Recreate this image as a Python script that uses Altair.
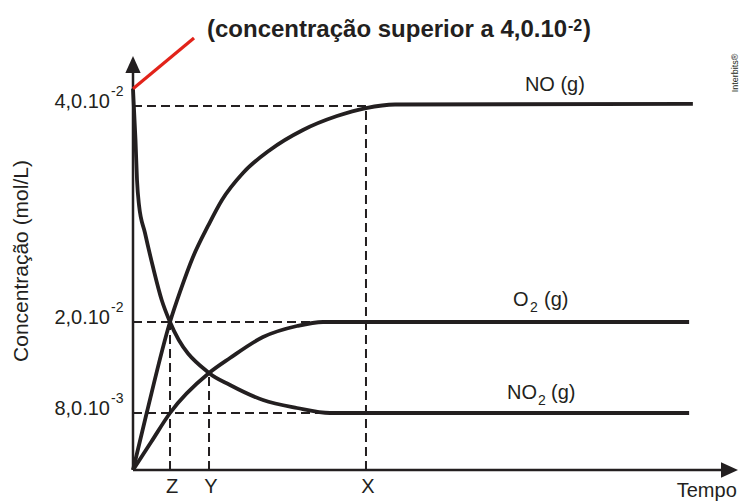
import altair as alt
import pandas as pd

# Concentration (mol/L) against time (arbitrary units) for the three species
NO_T = [0, 0.365, 0.987, 1.253, 1.6, 2.0, 2.373, 2.933, 3.653, 4.533, 5.44, 6.213, 6.987, 14.93]
NO_C = [0, 0.008, 0.02, 0.02278, 0.02602, 0.02889, 0.0313, 0.0338, 0.03593, 0.03778, 0.03907, 0.03981, 0.04014, 0.0402]
NO2_T = [0, 0.067, 0.107, 0.16, 0.32, 0.533, 0.765, 0.987, 2.027, 2.587, 3.467, 4.373, 5.253, 14.83]
NO2_C = [0.0416, 0.03685, 0.03315, 0.03083, 0.02824, 0.02509, 0.02204, 0.02, 0.01327, 0.01169, 0.00971, 0.00866, 0.008, 0.008]
O2_T = [0, 0.493, 0.987, 2.027, 2.587, 3.467, 4.373, 5.067, 14.83]
O2_C = [0, 0.004, 0.008, 0.01327, 0.01525, 0.01802, 0.01947, 0.02, 0.02]

# Red pointer marking the starting NO2 concentration
RED_T = [0, 1.627]
RED_C = [0.0416, 0.0463]

# Marked instants on the time axis
MARK_NAMES = ["Z", "Y", "X"]
MARK_T = [0.987, 2.027, 6.213]
MARK_C = [0.02, 0.01327, 0.04]

# Concentration levels shown on the vertical axis
LEVEL_C = [0.04, 0.02, 0.008]
LEVEL_MAIN = ["4,0.10", "2,0.10", "8,0.10"]
LEVEL_EXP = ["-2", "-2", "-3"]
LEVEL_END_T = [6.213, 5.1, 5.0]

FONT = "Liberation Sans"
INK = "#231f20"
RED = "#e2231a"

# The drawing is not to scale: a piecewise scale puts each level where it is drawn
x_sc = alt.Scale(domain=[0, 16], range=[133, 733], nice=False, zero=False)
y_sc = alt.Scale(domain=[0, 0.008, 0.02, 0.04], range=[470, 413, 322, 106], nice=False, zero=False)


def X(field):
    return alt.X(field, type="quantitative", scale=x_sc, axis=None)


def Y(field):
    return alt.Y(field, type="quantitative", scale=y_sc, axis=None)


def xd(v):
    return alt.XDatum(v, type="quantitative", scale=x_sc, axis=None)


def yd(v):
    return alt.YDatum(v, type="quantitative", scale=y_sc, axis=None)


def note(text, x, y, **mark):
    base = dict(font=FONT, color=INK, fontSize=20, align="left", baseline="middle")
    base.update(mark)
    return alt.Chart(pd.DataFrame({"s": [text]})).mark_text(**base).encode(
        x=x, y=y, text="s:N"
    )


curves = pd.concat(
    [
        pd.DataFrame({"serie": "NO", "t": NO_T, "c": NO_C}),
        pd.DataFrame({"serie": "NO2", "t": NO2_T, "c": NO2_C}),
        pd.DataFrame({"serie": "O2", "t": O2_T, "c": O2_C}),
    ],
    ignore_index=True,
)

# Dashed guides: horizontal from the axis, vertical from the time axis
guides = pd.DataFrame(
    {
        "t1": [0, 0, 0] + MARK_T,
        "c1": LEVEL_C + [0, 0, 0],
        "t2": LEVEL_END_T + MARK_T,
        "c2": LEVEL_C + MARK_C,
    }
)

guide_layer = alt.Chart(guides).mark_rule(
    color=INK, strokeWidth=2, strokeDash=[9, 5]
).encode(x=X("t1"), y=Y("c1"), x2=alt.X2("t2"), y2=alt.Y2("c2"))

axes = pd.DataFrame({"t1": [0, 0], "c1": [0, 0], "t2": [0, 15.79], "c2": [0.04333, 0]})
axis_layer = alt.Chart(axes).mark_rule(color=INK, strokeWidth=2.5).encode(
    x=X("t1"), y=Y("c1"), x2=alt.X2("t2"), y2=alt.Y2("c2")
)

arrow_up = alt.Chart(pd.DataFrame({"t": [0], "c": [0.04384]})).mark_point(
    shape="M0,-1L0.9,1L-0.9,1Z", filled=True, size=289, color=INK, opacity=1, strokeWidth=0
).encode(x=X("t"), y=Y("c"))
arrow_right = alt.Chart(pd.DataFrame({"t": [15.907], "c": [0]})).mark_point(
    shape="M1,0L-1,0.9L-1,-0.9Z", filled=True, size=289, color=INK, opacity=1, strokeWidth=0
).encode(x=X("t"), y=Y("c"))

curve_layer = alt.Chart(curves).mark_line(
    color=INK, strokeWidth=3.8, interpolate="monotone", strokeCap="butt"
).encode(x=X("t"), y=Y("c"), detail="serie:N", order="t:Q")

red_layer = alt.Chart(pd.DataFrame({"t": RED_T, "c": RED_C})).mark_line(
    color=RED, strokeWidth=3.2
).encode(x=X("t"), y=Y("c"))

levels = pd.DataFrame({"c": LEVEL_C, "main": LEVEL_MAIN, "exp": LEVEL_EXP})
level_main = alt.Chart(levels).mark_text(
    font=FONT, color=INK, fontSize=20, align="right", baseline="middle", dx=-23, dy=-4
).encode(x=xd(0), y=Y("c"), text="main:N")
level_exp = alt.Chart(levels).mark_text(
    font=FONT, color=INK, fontSize=14, align="left", baseline="middle", dx=-22, dy=-14
).encode(x=xd(0), y=Y("c"), text="exp:N")

marks = pd.DataFrame({"t": MARK_T, "name": MARK_NAMES})
mark_labels = alt.Chart(marks).mark_text(
    font=FONT, color=INK, fontSize=20, align="center", baseline="middle", dx=2, dy=17
).encode(x=X("t"), y=yd(0), text="name:N")

layers = [
    guide_layer,
    axis_layer,
    curve_layer,
    red_layer,
    arrow_up,
    arrow_right,
    level_main,
    level_exp,
    mark_labels,
    note("Tempo", xd(16.1), yd(0), align="right", baseline="alphabetic", dy=27),
    note("Concentração (mol/L)", alt.value(22), alt.value(261), align="center", angle=270, fontSize=21),
    # curve names
    note("NO (g)", xd(11.25), yd(0.0402), align="center", dy=-19),
    note("O", xd(10.133), yd(0.02), dy=-22),
    note("2", xd(10.133), yd(0.02), dx=17, dy=-14, fontSize=14),
    note("(g)", xd(10.133), yd(0.02), dx=31, dy=-22),
    note("NO", xd(9.973), yd(0.008), dy=-20),
    note("2", xd(9.973), yd(0.008), dx=31, dy=-12, fontSize=14),
    note("(g)", xd(9.973), yd(0.008), dx=44, dy=-20),
    # heading
    note("(concentração superior a 4,0.10", alt.value(207), alt.value(37),
         baseline="alphabetic", fontSize=24, fontWeight="bold"),
    note("-2", alt.value(568), alt.value(31), baseline="alphabetic", fontSize=16, fontWeight="bold"),
    note(")", alt.value(583), alt.value(37), baseline="alphabetic", fontSize=24, fontWeight="bold"),
    note("Interbits®", alt.value(735), alt.value(73), align="center", angle=270, fontSize=9),
]

chart = (
    alt.layer(*layers)
    .properties(width=740, height=503, autosize=alt.AutoSizeParams(type="none"), padding=0,
                background="white")
    .configure_view(stroke=None)
)

chart.save("out.html", embed_options={"renderer": "svg", "actions": False})
